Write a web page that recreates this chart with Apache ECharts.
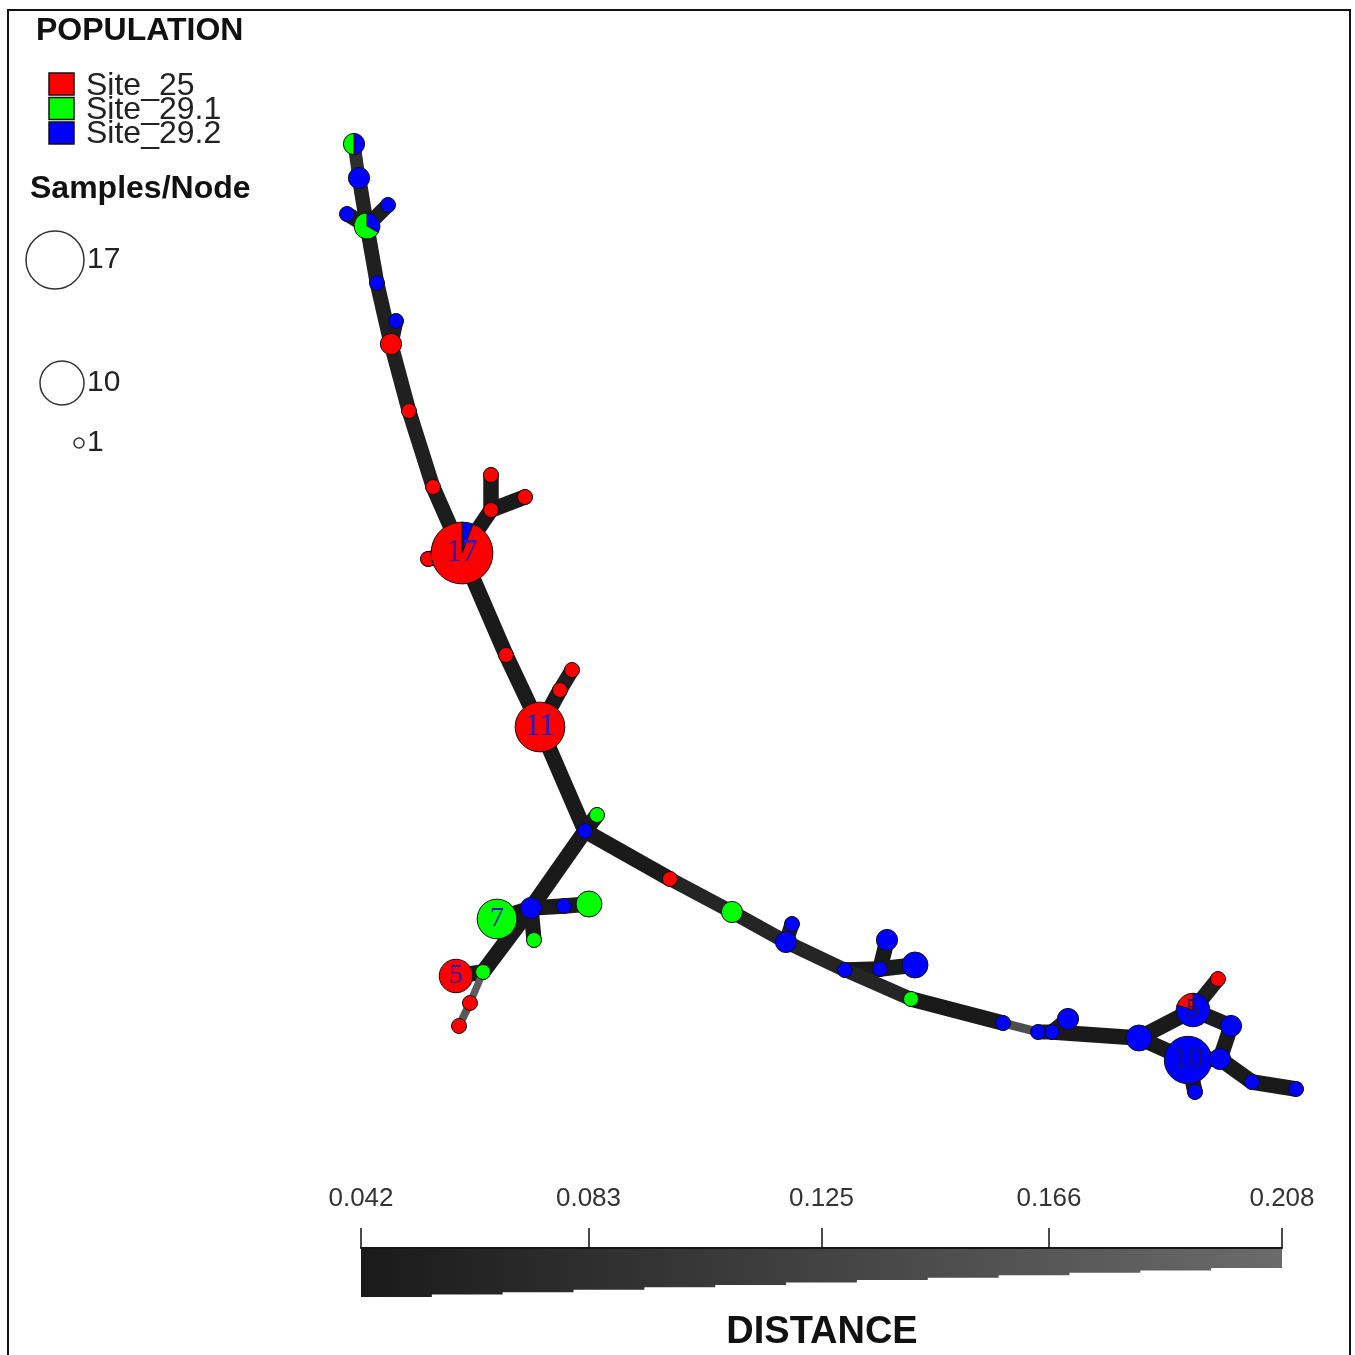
<!DOCTYPE html>
<html>
<head>
<meta charset="utf-8">
<script src="https://cdn.jsdelivr.net/npm/echarts@6/dist/echarts.min.js"></script>
<style>
  html, body { margin: 0; padding: 0; background: #fff; }
  #net { width: 1355px; height: 1355px; }
</style>
</head>
<body>
<div id="net"></div>
<script>
var sites = ['Site_25', 'Site_29.1', 'Site_29.2'];
var siteColors = ['#ff0000', '#00ff00', '#0000ff'];

// layout x, layout y, samples from Site_25, Site_29.1, Site_29.2
var nodes = [
  [354, 144, 0, 1, 1],
  [359, 178, 0, 0, 2],
  [347, 214, 0, 0, 1],
  [388, 205, 0, 0, 1],
  [367, 226, 0, 2, 1],
  [377, 283, 0, 0, 1],
  [396, 321, 0, 0, 1],
  [391, 344, 2, 0, 0],
  [409, 411, 1, 0, 0],
  [433, 487, 1, 0, 0],
  [428, 559, 1, 0, 0],
  [491, 510, 1, 0, 0],
  [491, 475, 1, 0, 0],
  [525, 497, 1, 0, 0],
  [462, 553, 16, 0, 1],
  [506, 655, 1, 0, 0],
  [572, 670, 1, 0, 0],
  [560, 690, 1, 0, 0],
  [540, 727, 11, 0, 0],
  [597, 815, 0, 1, 0],
  [585, 831, 0, 0, 1],
  [531, 908, 0, 0, 2],
  [564, 906, 0, 0, 1],
  [589, 904, 0, 3, 0],
  [497, 919, 0, 7, 0],
  [534, 940, 0, 1, 0],
  [483, 972, 0, 1, 0],
  [456, 976, 5, 0, 0],
  [470, 1003, 1, 0, 0],
  [459, 1026, 1, 0, 0],
  [670, 879, 1, 0, 0],
  [732, 912, 0, 2, 0],
  [792, 924, 0, 0, 1],
  [786, 942, 0, 0, 2],
  [845, 970, 0, 0, 1],
  [880, 969, 0, 0, 1],
  [887, 940, 0, 0, 2],
  [915, 965, 0, 0, 3],
  [911, 999, 0, 1, 0],
  [1003, 1023, 0, 0, 1],
  [1038, 1032, 0, 0, 1],
  [1052, 1032, 0, 0, 1],
  [1068, 1019, 0, 0, 2],
  [1139, 1038, 0, 0, 3],
  [1218, 979, 1, 0, 0],
  [1231, 1026, 0, 0, 2],
  [1193, 1010, 1, 0, 4],
  [1188, 1060, 0, 0, 10],
  [1220, 1059, 0, 0, 2],
  [1195, 1092, 0, 0, 1],
  [1252, 1082, 0, 0, 1],
  [1296, 1089, 0, 0, 1]
];

// from node, to node, distance
var edges = [
  [0, 1, 0.083], [1, 4, 0.06], [2, 4, 0.05], [3, 4, 0.05], [4, 5, 0.055],
  [5, 7, 0.055], [7, 6, 0.05], [7, 8, 0.055], [8, 9, 0.055], [9, 14, 0.048],
  [14, 10, 0.042], [14, 11, 0.042], [11, 12, 0.042], [11, 13, 0.042],
  [14, 15, 0.042], [15, 18, 0.045], [18, 17, 0.042], [17, 16, 0.05],
  [18, 20, 0.042], [20, 19, 0.042], [20, 21, 0.042], [21, 22, 0.045],
  [22, 23, 0.045], [21, 24, 0.042], [21, 25, 0.045], [21, 26, 0.042],
  [26, 27, 0.042], [26, 28, 0.18], [28, 29, 0.17],
  [20, 30, 0.042], [30, 31, 0.065], [31, 33, 0.065], [33, 32, 0.05],
  [33, 34, 0.065], [34, 35, 0.042], [35, 36, 0.042], [35, 37, 0.042],
  [34, 38, 0.065], [38, 39, 0.042], [39, 40, 0.15], [40, 41, 0.05],
  [41, 42, 0.05], [41, 43, 0.042], [43, 46, 0.042], [43, 47, 0.042],
  [46, 44, 0.05], [46, 45, 0.045], [45, 48, 0.045], [47, 48, 0.042],
  [47, 49, 0.042], [48, 50, 0.042], [50, 51, 0.042]
];

var distTicks = [0.042, 0.083, 0.125, 0.166, 0.208];
var sizeKeys = [17, 10, 1];

var dMin = 0.042, dMax = 0.208;
function edgeT(d) { return Math.max(0, Math.min(1, (d - dMin) / (dMax - dMin))); }
function edgeWidth(d) { return 15.5 - 10 * edgeT(d); }
function edgeColor(d) {
  var g = Math.round(26 + edgeT(d) * 80);
  return 'rgb(' + g + ',' + g + ',' + g + ')';
}
function nodeRadius(n) { return 7.5 * Math.sqrt(n); }

var edgeData = edges.map(function (e) {
  var a = nodes[e[0]], b = nodes[e[1]];
  return [a[0], a[1], b[0], b[1], e[2]];
});

var chart = echarts.init(document.getElementById('net'));

// legend graphics
var graphics = [];
graphics.push({
  type: 'rect', shape: { x: 8, y: 10, width: 1342, height: 1400 },
  style: { fill: 'none', stroke: '#111', lineWidth: 2 }, z: 0
});
graphics.push({
  type: 'text', style: { text: 'POPULATION', x: 36, y: 31, verticalAlign: 'middle',
    font: 'bold 32px "Liberation Sans"', fill: '#111' }
});
sites.forEach(function (s, i) {
  graphics.push({
    type: 'rect', shape: { x: 49, y: 73 + i * 24.5, width: 25, height: 22 },
    style: { fill: siteColors[i], stroke: '#111', lineWidth: 1.5 }
  });
  graphics.push({
    type: 'text', style: { text: s, x: 86, y: 86 + i * 24, verticalAlign: 'middle',
      font: '32px "Liberation Sans"', fill: '#222' }
  });
});
graphics.push({
  type: 'text', style: { text: 'Samples/Node', x: 30, y: 189, verticalAlign: 'middle',
    font: 'bold 32px "Liberation Sans"', fill: '#111' }
});
var keyY = [260, 383, 443];
var keyR = [29, 22, 5];
sizeKeys.forEach(function (k, i) {
  var cx = 84 - keyR[i];
  graphics.push({
    type: 'circle', shape: { cx: cx, cy: keyY[i], r: keyR[i] },
    style: { fill: 'none', stroke: '#333', lineWidth: 1.5 }
  });
  graphics.push({
    type: 'text', style: { text: String(k), x: 87, y: keyY[i], verticalAlign: 'middle',
      font: '30px "Liberation Sans"', fill: '#222' }
  });
});
// distance wedge (stepped)
var wx0 = 361, wx1 = 1282, wTop = 1248, steps = 13;
var pts = [[wx0, wTop], [wx1, wTop]];
for (var s = steps - 1; s >= 0; s--) {
  var xa = wx0 + (wx1 - wx0) * s / steps, xb = wx0 + (wx1 - wx0) * (s + 1) / steps;
  var yb = 1297 - (1297 - 1268) * s / (steps - 1);
  pts.push([xb, yb]); pts.push([xa, yb]);
}
graphics.push({
  type: 'polygon', shape: { points: pts },
  style: { fill: new echarts.graphic.LinearGradient(0, 0, 1, 0, [
    { offset: 0, color: '#1a1a1a' }, { offset: 1, color: '#6b6b6b' }]) },
  z: 1
});
graphics.push({
  type: 'text', style: { text: 'DISTANCE', x: 822, y: 1333, align: 'center', verticalAlign: 'middle',
    font: 'bold 38px "Liberation Sans"', fill: '#111' }
});

chart.setOption({
  animation: false,
  backgroundColor: '#fff',
  grid: [
    { left: 0, top: 0, width: 1355, height: 1355 },
    { left: 361, top: 1248, width: 921, height: 49 }
  ],
  xAxis: [
    { type: 'value', min: 0, max: 1355, show: false, gridIndex: 0 },
    {
      type: 'value', gridIndex: 1, min: dMin, max: dMax, position: 'top',
      axisLine: { show: true, onZero: false, lineStyle: { color: '#151515', width: 2 } },
      splitLine: { show: false },
      axisTick: { show: true, customValues: distTicks, length: 20, lineStyle: { color: '#111', width: 1.5 } },
      axisLabel: {
        customValues: distTicks, margin: 36, fontSize: 26, color: '#333',
        fontFamily: 'Liberation Sans', formatter: function (v) { return v.toFixed(3); }
      },
      z: 5
    }
  ],
  yAxis: [
    { type: 'value', min: 0, max: 1355, inverse: true, show: false, gridIndex: 0 },
    { type: 'value', min: 0, max: 1, show: false, gridIndex: 1 }
  ],
  graphic: graphics,
  series: [
    {
      type: 'custom', name: 'edges', xAxisIndex: 0, yAxisIndex: 0, z: 2, clip: false,
      data: edgeData,
      encode: { x: [0, 2], y: [1, 3] },
      renderItem: function (params, api) {
        var p1 = api.coord([api.value(0), api.value(1)]);
        var p2 = api.coord([api.value(2), api.value(3)]);
        var d = api.value(4);
        return {
          type: 'line',
          shape: { x1: p1[0], y1: p1[1], x2: p2[0], y2: p2[1] },
          style: { stroke: edgeColor(d), lineWidth: edgeWidth(d), lineCap: 'round' }
        };
      }
    },
    {
      type: 'custom', name: 'nodes', xAxisIndex: 0, yAxisIndex: 0, z: 3, clip: false,
      data: nodes,
      encode: { x: 0, y: 1 },
      renderItem: function (params, api) {
        var c = api.coord([api.value(0), api.value(1)]);
        var counts = [api.value(2), api.value(3), api.value(4)];
        var n = counts[0] + counts[1] + counts[2];
        var r = nodeRadius(n);
        var children = [];
        var order = [2, 1, 0];
        var nonzero = order.filter(function (k) { return counts[k] > 0; });
        if (nonzero.length === 1) {
          children.push({
            type: 'circle', shape: { cx: c[0], cy: c[1], r: r },
            style: { fill: siteColors[nonzero[0]], stroke: '#111', lineWidth: 1 }
          });
        } else {
          var a = -Math.PI / 2;
          nonzero.forEach(function (k) {
            var span = 2 * Math.PI * counts[k] / n;
            children.push({
              type: 'sector',
              shape: { cx: c[0], cy: c[1], r0: 0, r: r, startAngle: a, endAngle: a + span, clockwise: true },
              style: { fill: siteColors[k], stroke: '#111', lineWidth: 1 }
            });
            a += span;
          });
        }
        if (n >= 5) {
          var blueish = counts[2] > counts[0] + counts[1];
          children.push({
            type: 'text',
            style: {
              text: String(n), x: c[0], y: c[1], align: 'center', verticalAlign: 'middle',
              font: (n >= 10 ? 31 : 28) + 'px "Liberation Serif"',
              fill: blueish ? '#14146e' : '#2020c0'
            }
          });
        }
        return { type: 'group', children: children };
      }
    }
  ]
});
</script>
</body>
</html>
